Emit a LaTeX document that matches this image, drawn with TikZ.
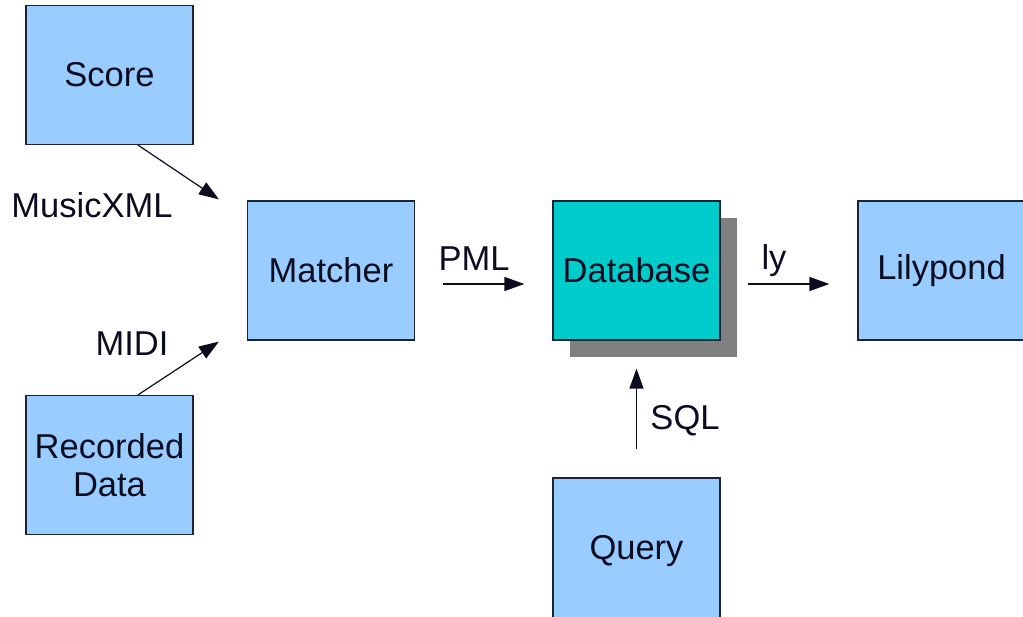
\documentclass[tikz,border=0pt]{standalone}
\usepackage{fontspec}
\setmainfont{Liberation Sans}
\usetikzlibrary{arrows.meta,shadows}

\definecolor{boxblue}{HTML}{99CCFF}
\definecolor{dbteal}{HTML}{00CCCC}
\definecolor{edge}{HTML}{1E2438}
\definecolor{ink}{HTML}{0C0C20}
\definecolor{shade}{HTML}{808080}

\tikzset{
  block/.style={draw=edge, line width=1.2pt, fill=boxblue, text=ink,
    minimum width=167pt, minimum height=139pt, inner sep=0pt,
    align=center, font=\fontsize{34.5}{38}\selectfont},
  lbl/.style={inner sep=0pt, text=ink, font=\fontsize{34.5}{38}\selectfont},
  flow/.style={line width=1.2pt, draw=ink,
    -{Triangle[length=20pt,width=14pt]}},
}

\begin{document}
\begin{tikzpicture}[x=1pt,y=-1pt]
  \useasboundingbox (0,0) rectangle (1023,617);

  % processing blocks
  \node[block] (score)   at (109.5, 75)    {Score};
  \node[block] (rec)     at (109.5, 465)   {Recorded\\Data};
  \node[block] (matcher) at (331, 270.5)   {Matcher};
  \node[block, fill=dbteal,
        general shadow={shadow xshift=17pt, shadow yshift=-17pt,
                        fill=shade, draw=none}]
               (db)      at (636.5, 270.5) {Database};
  \node[block] (lily)    at (941.5, 270.5) {Lilypond};
  \node[block, minimum height=146pt] (query) at (636.5, 551) {Query};

  % data-flow labels
  \node[lbl] (lxml) at (92, 205)    {MusicXML};
  \node[lbl] (lmidi) at (132, 344)  {MIDI};
  \node[lbl] (lpml) at (474, 258.5) {PML};
  \node[lbl] (lly)  at (774, 261)   {ly};
  \node[lbl] (lsql) at (685, 420.5) {SQL};

  % data flows
  \draw[flow] ([xshift=28.5pt]score.south) -- ([xshift=-28pt,yshift=1pt]matcher.north west);
  \draw[flow] ([xshift=28.5pt]rec.north) -- ([xshift=-28pt,yshift=-1pt]matcher.south west);
  \draw[flow, shorten <=28pt, shorten >=28pt]
    ([yshift=-13.5pt]matcher.east) -- ([yshift=-13.5pt]db.west);
  \draw[flow, shorten <=27pt, shorten >=28pt]
    ([yshift=-13.5pt]db.east) -- ([yshift=-13.5pt]lily.west);
  \draw[flow, shorten <=28pt, shorten >=28pt]
    (query.north) -- (db.south);
\end{tikzpicture}
\end{document}
